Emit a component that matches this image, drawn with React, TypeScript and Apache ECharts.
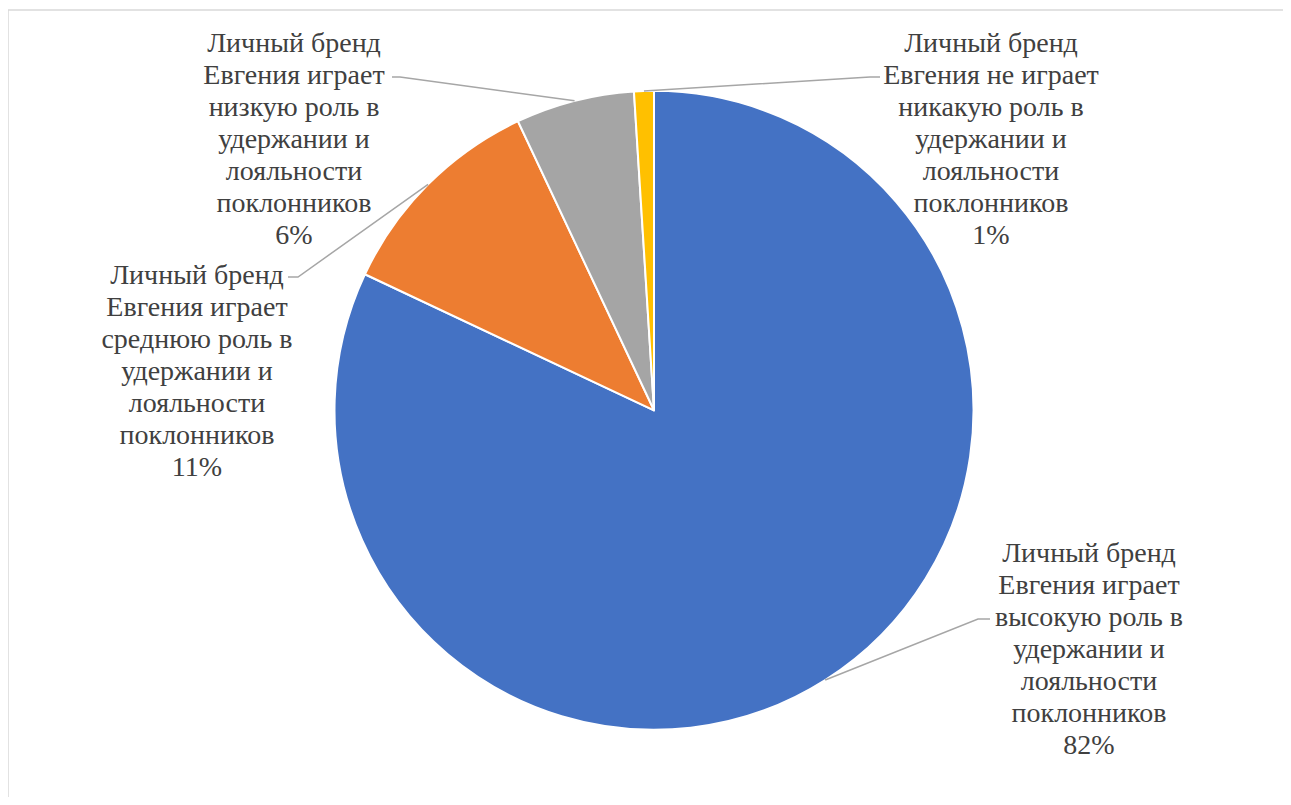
import React, { useEffect, useRef } from "react";
import * as echarts from "echarts";

// ---- data ----
const categories: string[] = [
  "Личный бренд\nЕвгения играет\nвысокую роль в\nудержании и\nлояльности\nпоклонников",
  "Личный бренд\nЕвгения играет\nсреднюю роль в\nудержании и\nлояльности\nпоклонников",
  "Личный бренд\nЕвгения играет\nнизкую роль в\nудержании и\nлояльности\nпоклонников",
  "Личный бренд\nЕвгения не играет\nникакую роль в\nудержании и\nлояльности\nпоклонников",
];
const shares: number[] = [82, 11, 6, 1];
const sliceColors: string[] = ["#4472C4", "#ED7D31", "#A5A5A5", "#FFC000"];

// ---- label layout (page pixels): text block center-x / top-y, leader elbow and end ----
const labelPlacement = [
  { x: 1089, y: 532, elbow: [978, 619], end: [990, 619] },
  { x: 197, y: 254, elbow: [298, 277], end: [288, 277] },
  { x: 294, y: 22, elbow: [400, 77], end: [392, 77] },
  { x: 991, y: 22, elbow: [870, 77], end: [880, 77] },
];

const SERIF = "Liberation Serif";
const LINE_H = 32;
const OFF = 8; // body margin: chart div starts at page (8, 8)

export default function App() {
  const ref = useRef<HTMLDivElement>(null);

  useEffect(() => {
    if (!ref.current) return;
    const chart = echarts.init(ref.current, undefined, { renderer: "svg" });
    const cx = 654 - OFF;
    const cy = 410.3 - OFF;
    const r = 319.5;
    chart.setOption({
      animation: false,
      series: [
        {
          type: "pie",
          center: [cx, cy],
          radius: [0, r],
          startAngle: 90,
          clockwise: true,
          emphasis: { disabled: true },
          itemStyle: { borderColor: "#ffffff", borderWidth: 2 },
          label: { show: false },
          labelLine: { show: false },
          data: categories.map((name, i) => ({
            name,
            value: shares[i],
            itemStyle: { color: sliceColors[i] },
          })),
        },
      ],
    });

    const total = shares.reduce((a, b) => a + b, 0);
    const starts: number[][] = [];
    let layoutData: any = null;
    try {
      layoutData = (chart as any).getModel().getSeriesByIndex(0).getData();
    } catch (e) {
      layoutData = null;
    }
    let acc = 0;
    shares.forEach((v, i) => {
      let pt: number[] | null = null;
      if (layoutData) {
        const l = layoutData.getItemLayout(i);
        if (l && isFinite(l.startAngle) && isFinite(l.endAngle)) {
          const mid = (l.startAngle + l.endAngle) / 2;
          pt = [l.cx + l.r * Math.cos(mid), l.cy + l.r * Math.sin(mid)];
        }
      }
      if (!pt) {
        const mid = ((acc + v / 2) / total) * Math.PI * 2;
        pt = [cx + r * Math.sin(mid), cy - r * Math.cos(mid)];
      }
      acc += v;
      starts.push(pt);
    });

    const graphics: any[] = [
      {
        type: "rect",
        shape: { x: 0, y: 2, width: 1400, height: 900 },
        style: { fill: "none", stroke: "#D9D9D9", lineWidth: 1.5 },
        silent: true,
        z: 0,
      },
    ];
    categories.forEach((name, i) => {
      const pl = labelPlacement[i];
      const lines = [...name.split("\n"), `${Math.round((shares[i] / total) * 100)}%`];
      graphics.push({
        type: "polyline",
        shape: {
          points: [
            starts[i],
            [pl.elbow[0] - OFF, pl.elbow[1] - OFF],
            [pl.end[0] - OFF, pl.end[1] - OFF],
          ],
        },
        style: { fill: "none", stroke: "#A6A6A6", lineWidth: 1.5 },
        silent: true,
        z: 5,
      });
      lines.forEach((t, k) => {
        graphics.push({
          type: "text",
          x: pl.x - OFF,
          y: pl.y - OFF + 6 + k * LINE_H,
          silent: true,
          z: 6,
          style: {
            text: t,
            fill: "#404040",
            fontFamily: SERIF,
            fontSize: 28,
            textAlign: "center",
          },
        });
      });
    });
    chart.setOption({ graphic: graphics });

    return () => chart.dispose();
  }, []);

  return <div ref={ref} style={{ width: 1275, height: 789, overflow: "hidden" }} />;
}
